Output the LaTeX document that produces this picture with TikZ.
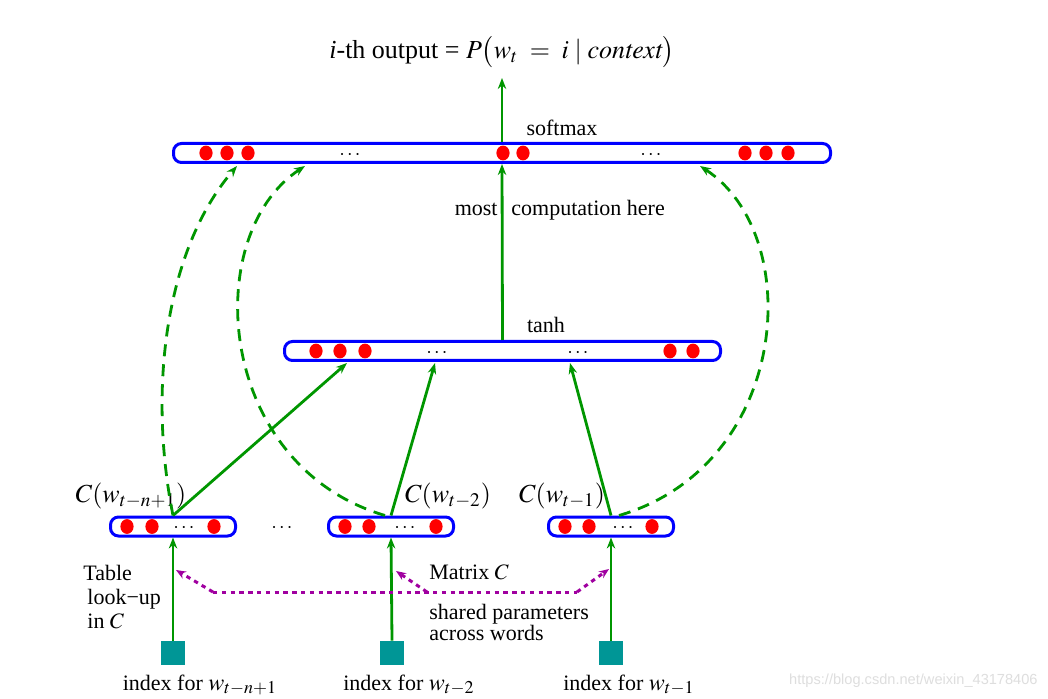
\documentclass[tikz,border=0pt]{standalone}
\usepackage{mathptmx}
\usepackage{fontspec}
\setmainfont{Liberation Serif}
\newfontfamily\wmfont{Liberation Sans}
\usetikzlibrary{arrows.meta,shapes.geometric,calc}
\definecolor{boxblue}{RGB}{0,0,255}
\definecolor{arrgreen}{RGB}{0,150,0}
\definecolor{dotmag}{RGB}{160,0,160}
\definecolor{idxteal}{RGB}{0,150,150}
\begin{document}
\begin{tikzpicture}[x=0.5pt,y=-0.5pt,
  every node/.style={font=\fontsize{11}{12}\selectfont},
  layer/.style={draw=boxblue, line width=1.5pt, rounded corners=4pt, inner sep=0pt, minimum height=9.5pt},
  neuron/.style={fill=red, draw=none, ellipse, inner sep=0pt, minimum width=6.6pt, minimum height=7.4pt},
  hdots/.style={inner sep=0pt, font=\fontsize{10}{12}\selectfont},
  flow/.style={draw=arrgreen, line width=1.4pt, -{Stealth[length=5.5pt,width=4.2pt]}},
  skip/.style={flow, dash pattern=on 6pt off 4pt},
  share/.style={draw=dotmag, line width=1.5pt, dash pattern=on 2.2pt off 2.2pt},
  sharearrow/.style={share, -{Stealth[length=5pt,width=4pt]}},
  index/.style={fill=idxteal, draw=none, minimum size=12pt, inner sep=0pt},
  lab/.style={inner sep=0pt},
  biglab/.style={inner sep=0pt, font=\fontsize{13}{14}\selectfont}]
\fill[white] (0,0) rectangle (1048,699);
\useasboundingbox (0,0) rectangle (1048,699);

% layers
\node[layer, minimum width=328.5pt] (sm) at (502,153) {};
\node[layer, minimum width=218pt] (th) at (502.5,351) {};
\node[layer, minimum width=62.5pt] (b1) at (173,526.5) {};
\node[layer, minimum width=62.5pt] (b2) at (391,526.5) {};
\node[layer, minimum width=62.5pt] (b3) at (611,526.5) {};

% units
\foreach \x [count=\i] in {206,227,248,503,523,745,766,788}
  \node[neuron] (sm\i) at (\x,153) {};
\node[hdots] (smd1) at (350,155) {$\cdots$};
\node[hdots] (smd2) at (651,155) {$\cdots$};
\foreach \x [count=\i] in {316,340,365,670,693}
  \node[neuron] (th\i) at (\x,351) {};
\node[hdots] (thd1) at (437,353) {$\cdots$};
\node[hdots] (thd2) at (578,353) {$\cdots$};
\foreach \x [count=\i] in {127,152,214}
  \node[neuron] (ba\i) at (\x,526.5) {};
\node[hdots] (bad) at (184,528.5) {$\cdots$};
\foreach \x [count=\i] in {345,369,436}
  \node[neuron] (bb\i) at (\x,526.5) {};
\node[hdots] (bbd) at (405,528.5) {$\cdots$};
\foreach \x [count=\i] in {565,589,652}
  \node[neuron] (bc\i) at (\x,526.5) {};
\node[hdots] (bcd) at (623,528.5) {$\cdots$};
\node[hdots] (between) at (282,528.5) {$\cdots$};

% labels
\node[biglab] (out) at (502,52) {\textit{i}-th output = $P\bigl(w_t\;=\;i\mid\mathit{context}\bigr)$};
\node[lab] (smlab) at (562,128) {softmax};
\node[lab] (thlab) at (546,325) {tanh};
\node[lab, anchor=base east] (most) at (498,216) {most};
\node[lab, anchor=base west] (comp) at (511,216) {computation here};
\node[biglab] (l1) at (131,496) {$C(w_{t-n+1})$};
\node[biglab] (l2) at (448,496) {$C(w_{t-2})$};
\node[biglab] (l3) at (562,496) {$C(w_{t-1})$};
\node[lab, align=left, anchor=west] (tbl) at (83,597) {Table\\\hspace*{2pt}look−up\\\hspace*{2pt}in $C$};
\node[lab, anchor=west] (mat) at (429,572) {Matrix $C$};
\node[lab, align=left, anchor=west, font=\fontsize{11}{10.5}\selectfont] (shr) at (429,622) {shared parameters\\across words};
\node[lab] (i1) at (200,685) {index for {\fontsize{12}{12}\selectfont$w_{t-n+1}$}};
\node[lab] (i2) at (409,685) {index for {\fontsize{12}{12}\selectfont$w_{t-2}$}};
\node[lab] (i3) at (629,685) {index for {\fontsize{12}{12}\selectfont$w_{t-1}$}};
\node[lab, anchor=east, font=\wmfont\fontsize{7.3}{8}\selectfont, text=black!13] (wm) at (1038,681) {https://blog.csdn.net/weixin\_43178406};

% index squares
\node[index] (s1) at (173,653) {};
\node[index] (s2) at (392,653) {};
\node[index] (s3) at (611,653) {};

% connectors
\coordinate (outtip) at (502,78);
\draw[flow] (sm.north) -- (outtip);
\draw[flow] (th.north) -- (sm.south);
\coordinate (t1) at (347,363);
\coordinate (t2) at (435,363);
\coordinate (t3) at (570,363);
\draw[flow] (b1.north) -- (t1);
\draw[flow] (b2.north) -- (t2);
\draw[flow] (b3.north) -- (t3);
\coordinate (d1) at (237,166);
\coordinate (d2) at (305,166);
\coordinate (d3) at (700,166);
\draw[skip] (b1.north) .. controls (148,390) and (165,250) .. (d1);
\draw[skip] ($(b2.north)+(-6,0)$) .. controls (215,465) and (200,235) .. (d2);
\draw[skip] ($(b3.north)+(8,0)$) .. controls (791,465) and (806,235) .. (d3);
\draw[flow] (s1.north) -- (b1.south);
\draw[flow] (s2.north) -- (b2.south);
\draw[flow] (s3.north) -- (b3.south);

% shared parameters
\coordinate (m1) at (213,592);
\coordinate (m2) at (427,592);
\coordinate (m3) at (577,592);
\coordinate (a1) at (176,570);
\coordinate (a2) at (396,571);
\coordinate (a3) at (609,569);
\draw[share] (m1) -- (m3);
\draw[sharearrow] (m1) -- (a1);
\draw[sharearrow] (m2) -- (a2);
\draw[sharearrow] (m3) -- (a3);
\end{tikzpicture}
\end{document}
